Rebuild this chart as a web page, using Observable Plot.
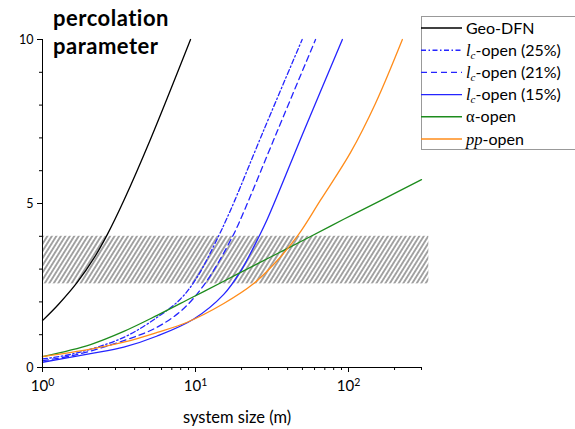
<!DOCTYPE html>
<html>
<head>
<meta charset="utf-8">
<script src="https://cdn.jsdelivr.net/npm/d3@7"></script>
<script src="https://cdn.jsdelivr.net/npm/@observablehq/plot@0.6"></script>
<style>
  body { margin: 0; background: #fff; }
  #chart { position: relative; width: 575px; height: 429px; }
</style>
</head>
<body>
<div id="chart"></div>
<script>
// ---- data (system size in m, percolation parameter) ----
const geoSize  = [1, 1.27, 1.69, 2.2, 2.65, 3.4, 5.08, 9.28];
const geoParam = [1.43, 1.92, 2.60, 3.38, 4.05, 5.09, 6.96, 10];

const lc25Size  = [1, 1.6, 3.4, 5.62, 7.98, 10.3, 14.2, 15.8, 18.0, 27.9, 49.8];
const lc25Param = [0.26, 0.42, 0.92, 1.53, 2.09, 2.77, 4.02, 4.48, 5.08, 7.23, 10];

const lc21Size  = [1, 1.6, 3.4, 5.62, 8.38, 11.9, 17.4, 20.3, 34.2, 60.9];
const lc21Param = [0.21, 0.37, 0.82, 1.23, 1.80, 2.65, 3.98, 4.66, 7.20, 10];

const lc15Size  = [1, 2.06, 3.4, 5.62, 9.75, 15.3, 19.7, 25.6, 29.4, 51.1, 91.2];
const lc15Param = [0.16, 0.42, 0.62, 0.96, 1.48, 2.23, 2.93, 3.93, 4.51, 7.21, 10];

const alphaSize  = [1, 2.06, 3.4, 5.62, 9.28, 15.3, 25.3, 35.9, 53.7, 93, 162, 300];
const alphaParam = [0.33, 0.70, 1.10, 1.59, 2.11, 2.63, 3.16, 3.52, 3.94, 4.52, 5.09, 5.73];

const ppSize  = [1, 2.06, 3.4, 5.62, 8.83, 15.3, 23.9, 33.3, 47.1, 65.6, 103, 150, 225];
const ppParam = [0.33, 0.56, 0.77, 1.07, 1.38, 1.95, 2.55, 3.20, 4.05, 5.10, 6.55, 8.05, 10];

// shaded band (critical percolation range)
const bandLow = 2.55, bandHigh = 4.0;
const bandFrom = 1, bandTo = 335;

// ticks
const xMajorTicks = [1, 10, 100];
const xMinorTicks = [2,3,4,5,6,7,8,9,20,30,40,50,60,70,80,90,200,300];
const yMajorTicks = [0, 5, 10];
const yMinorTicks = [1,2,3,4,6,7,8,9];

const seriesNames  = ["Geo-DFN", "lc25", "lc21", "lc15", "alpha", "pp"];
const seriesSizes  = [geoSize, lc25Size, lc21Size, lc15Size, alphaSize, ppSize];
const seriesParams = [geoParam, lc25Param, lc21Param, lc15Param, alphaParam, ppParam];
const seriesColors = ["#000000", "#2424ff", "#2424ff", "#2424ff", "#1d8c1d", "#ff8c1a"];
const seriesDashes = [null, "5,2.5,1.5,2.5", "6,4", null, null, null];

// ---- build ----
const rows = seriesNames.flatMap((name, k) =>
  seriesSizes[k].map((s, i) => ({series: name, size: s, param: seriesParams[k][i]})));
const band = [{x1: bandFrom, x2: bandTo, y1: bandLow, y2: bandHigh}];

const FONT = "Lato, 'Open Sans', sans-serif";

const plot = Plot.plot({
  width: 575, height: 429,
  marginLeft: 42, marginRight: 154, marginTop: 39, marginBottom: 62,
  style: {fontFamily: FONT, background: "white", color: "#000"},
  x: {type: "log", domain: [1, 300], label: null},
  y: {domain: [0, 10], label: null},
  marks: [
    Plot.rect(band, {x1: "x1", x2: "x2", y1: "y1", y2: "y2", fill: "url(#hatch)"}),
    ...seriesNames.map((name, k) => Plot.line(rows.filter(d => d.series === name), {
      x: "size", y: "param", stroke: seriesColors[k], strokeWidth: 1.3,
      strokeDasharray: seriesDashes[k] || undefined, curve: "catmull-rom"
    })),
    Plot.ruleX([1], {stroke: "#000", strokeWidth: 1}),
    Plot.ruleY([0], {stroke: "#000", strokeWidth: 1}),
    Plot.axisX(xMinorTicks, {tickSize: 3, fill: "none", label: null}),
    Plot.axisX(xMajorTicks, {tickSize: 5, tickPadding: 8, fontSize: 15, label: null,
      tickFormat: d => "10^" + Math.round(Math.log10(d))}),
    Plot.axisY(yMinorTicks, {tickSize: 3, fill: "none", label: null}),
    Plot.axisY(yMajorTicks, {tickSize: 5, tickPadding: 4, fontSize: 12.5, label: null,
      tickFormat: d => String(d)})
  ]
});

const svg = d3.select(plot);
// hatch pattern
const defs = svg.insert("defs", ":first-child");
const pat = defs.append("pattern").attr("id", "hatch")
  .attr("patternUnits", "userSpaceOnUse").attr("width", 3.8).attr("height", 6)
  .attr("patternTransform", "rotate(32)");
pat.append("line").attr("x1", 1.9).attr("y1", 0).attr("x2", 1.9).attr("y2", 6)
  .attr("stroke", "#4a4a4a").attr("stroke-width", 1);

// superscript exponents in x tick labels
svg.selectAll("text").each(function() {
  const m = /^10\^(-?\d+)$/.exec(this.textContent);
  if (m) {
    this.textContent = "10";
    d3.select(this).append("tspan").attr("dy", "-0.45em").attr("font-size", "10.5").text(m[1]);
  }
});

// axis title
svg.append("text").attr("x", 237).attr("y", 423).attr("text-anchor", "middle")
  .attr("font-family", FONT).attr("font-size", 16.5).attr("fill", "#000")
  .text("system size (m)");

// y title (two lines, bold)
const ttl = svg.append("g").attr("font-family", FONT).attr("font-weight", "bold")
  .attr("font-size", 22).attr("letter-spacing", 0.5).attr("text-anchor", "start").attr("fill", "#000");
ttl.append("text").attr("x", 53).attr("y", 26).attr("text-anchor", "start").text("percolation");
ttl.append("text").attr("x", 53).attr("y", 54).attr("text-anchor", "start").text("parameter");

// legend
const legendLabels = [
  [{t: "Geo-DFN"}],
  [{t: "l", m: 1}, {t: "c", m: 1, sub: 1}, {t: "-open (25%)"}],
  [{t: "l", m: 1}, {t: "c", m: 1, sub: 1}, {t: "-open (21%)"}],
  [{t: "l", m: 1}, {t: "c", m: 1, sub: 1}, {t: "-open (15%)"}],
  [{t: "α", m: 2}, {t: "-open"}],
  [{t: "pp", m: 1}, {t: "-open"}]
];
const lg = svg.append("g");
lg.append("rect").attr("x", 421.5).attr("y", 16.5).attr("width", 170).attr("height", 133)
  .attr("fill", "white").attr("stroke", "#999").attr("stroke-width", 1);
seriesNames.forEach((name, k) => {
  const cy = 28 + k * 22.2;
  lg.append("line").attr("x1", 421).attr("x2", 462).attr("y1", cy).attr("y2", cy)
    .attr("stroke", seriesColors[k]).attr("stroke-width", 1.4)
    .attr("stroke-dasharray", seriesDashes[k]);
  const txt = lg.append("text").attr("x", 466).attr("y", cy + 5.5).attr("text-anchor", "start")
    .attr("font-family", FONT).attr("font-size", 16).attr("fill", "#000");
  legendLabels[k].forEach((part, i) => {
    const ts = txt.append("tspan").text(part.t);
    if (part.m) {
      ts.attr("font-family", "'Liberation Serif', 'DejaVu Serif', serif")
        .attr("font-style", part.m === 1 ? "italic" : "normal").attr("font-size", 16.5);
    }
    if (part.sub) ts.attr("font-size", 11).attr("dy", 3);
    else if (i > 0 && legendLabels[k][i - 1].sub) ts.attr("dy", -3);
  });
});

document.getElementById("chart").appendChild(plot);
</script>
</body>
</html>
